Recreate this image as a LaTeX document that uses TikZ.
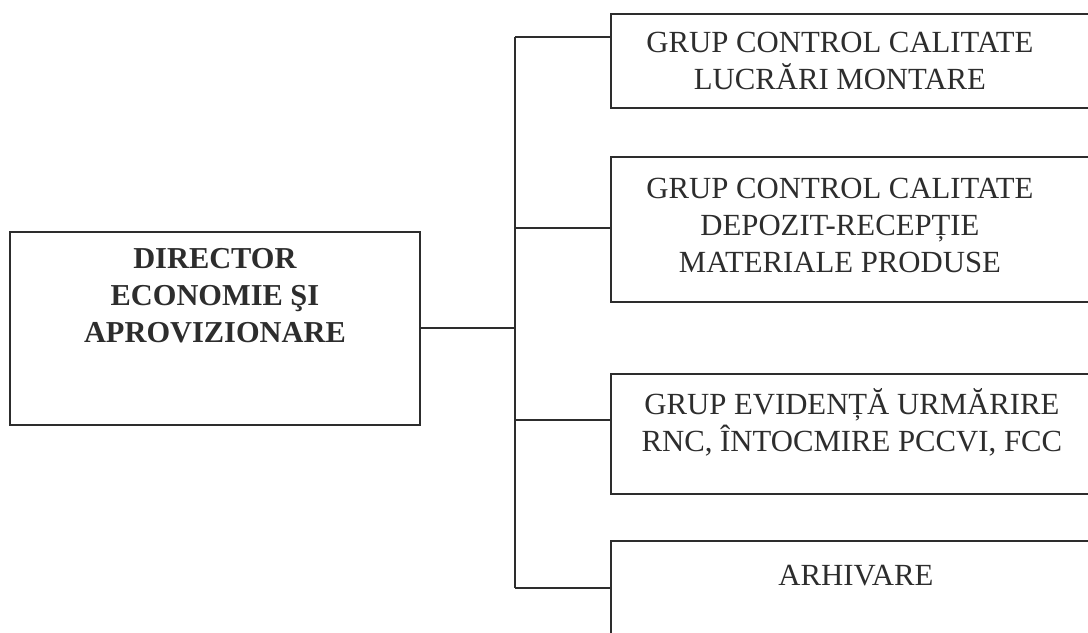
\documentclass[tikz,border=0pt]{standalone}
\usepackage{fontspec}
\setmainfont{Liberation Serif}
\usetikzlibrary{positioning}
\definecolor{ink}{RGB}{45,45,45}

\begin{document}
\begin{tikzpicture}[
    x=0.02cm, y=-0.02cm,
    box/.style={rectangle, draw=ink, line width=1.1pt, inner sep=0pt, anchor=north west},
    boxtext/.style={inner sep=0pt, align=center, text=ink, font=\fontsize{17.5}{21}\selectfont},
    link/.style={draw=ink, line width=1.1pt}
]
    \useasboundingbox (0,0) rectangle (1088,632);
    \clip (0,0) rectangle (1088,632);

    % Director
    \node[box, minimum width=8.2cm, minimum height=3.86cm] (dir) at (9,231) {};
    \node[boxtext, below=0.34cm of dir.north, font=\fontsize{17.3}{21}\selectfont\bfseries] (tdir) {DIRECTOR\\ECONOMIE ŞI\\APROVIZIONARE};

    % Groups
    \node[box, minimum width=9.8cm, minimum height=1.88cm] (grp1) at (610,13) {};
    \node[box, minimum width=9.8cm, minimum height=2.9cm] (grp2) at (610,156) {};
    \node[box, minimum width=9.8cm, minimum height=2.4cm] (grp3) at (610,373) {};
    \node[box, minimum width=9.8cm, minimum height=2.4cm] (grp4) at (610,540) {};

    \node[boxtext, below=0.38cm of grp1.north, xshift=-0.32cm] (t1) {GRUP CONTROL CALITATE\\LUCRĂRI MONTARE};
    \node[boxtext, below=0.44cm of grp2.north, xshift=-0.32cm] (t2) {GRUP CONTROL CALITATE\\DEPOZIT-RECEPȚIE\\MATERIALE PRODUSE};
    \node[boxtext, below=0.3cm of grp3.north, xshift=-0.08cm] (t3) {GRUP EVIDENȚĂ URMĂRIRE\\RNC, ÎNTOCMIRE PCCVI, FCC};
    \node[boxtext, below=0.5cm of grp4.north] (t4) {ARHIVARE};

    % Bus
    \coordinate (b1) at (515,37);
    \coordinate (b2) at (515,228);
    \coordinate (b3) at (515,420);
    \coordinate (b4) at (515,588);

    \draw[link] (dir.east) -- (dir.east -| b1);
    \draw[link] (b1) -- (b4);
    \foreach \i in {1,...,4}
        \draw[link] (b\i) -- (b\i -| grp\i.west);
\end{tikzpicture}
\end{document}
